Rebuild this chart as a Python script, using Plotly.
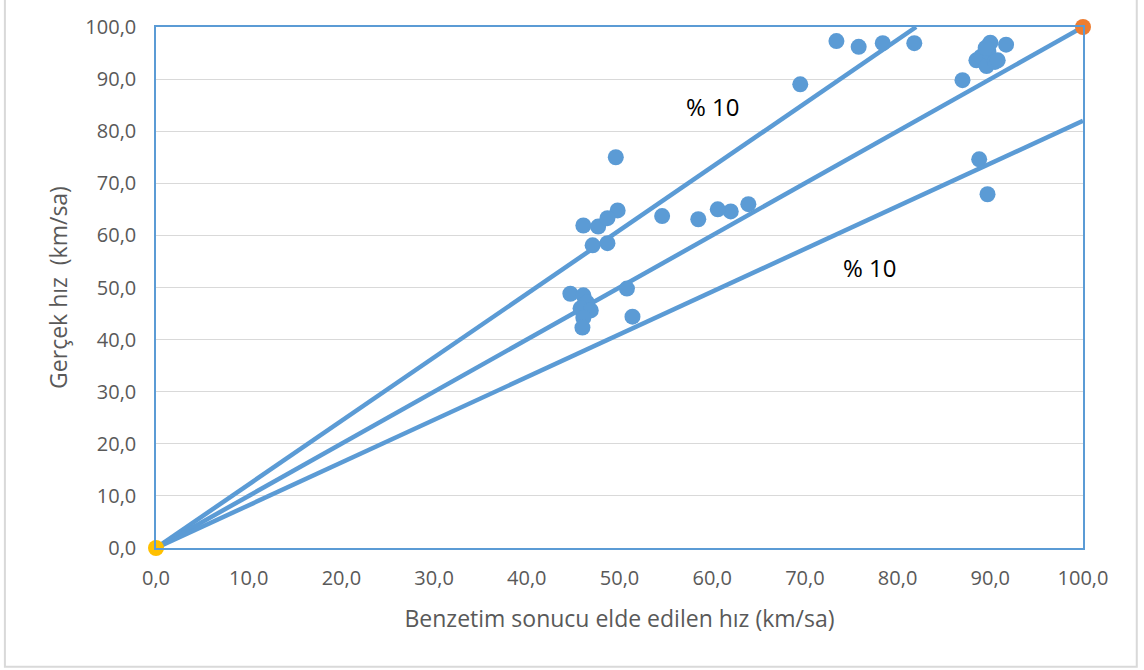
import plotly.graph_objects as go

# Blue scatter points (simulated speed, real speed)
sim_speed = [73.4, 75.8, 78.4, 81.8, 69.5, 87.0,
             88.5, 89.0, 89.6, 89.8, 90.5, 90.8, 90.0, 91.7, 89.5,
             49.6, 88.8, 89.7,
             63.9, 62.0, 60.6, 58.5, 54.6, 49.8,
             46.1, 47.7, 48.7, 47.1, 48.7,
             44.7, 46.1, 46.5, 45.8, 46.9, 46.1, 46.0, 50.8, 51.4]
real_speed = [97.3, 96.2, 96.9, 96.9, 89.0, 89.8,
              93.6, 94.3, 92.5, 95.2, 93.3, 93.6, 97.0, 96.6, 96.0,
              75.0, 74.6, 67.9,
              66.0, 64.6, 65.0, 63.1, 63.7, 64.8,
              61.9, 61.7, 63.3, 58.1, 58.5,
              48.8, 48.5, 47.1, 46.0, 45.6, 44.2, 42.3, 49.8, 44.4]

# Reference lines
line_mid_x = [0, 100]
line_mid_y = [0, 100]
line_up_x = [0, 82]
line_up_y = [0, 100]
line_low_x = [0, 100]
line_low_y = [0, 82]

origin_x = [0]
origin_y = [0]
corner_x = [100]
corner_y = [100]

ticks = [0, 10, 20, 30, 40, 50, 60, 70, 80, 90, 100]

BLUE = "#5B9BD5"
FONT = "Open Sans, Lato, sans-serif"

fig = go.Figure()
for lx, ly in [(line_up_x, line_up_y), (line_mid_x, line_mid_y), (line_low_x, line_low_y)]:
    fig.add_trace(go.Scatter(x=lx, y=ly, mode="lines",
                             line=dict(color=BLUE, width=4.5), showlegend=False,
                             cliponaxis=True))
fig.add_trace(go.Scatter(x=sim_speed, y=real_speed, mode="markers",
                         marker=dict(color=BLUE, size=16), showlegend=False,
                         cliponaxis=False))
fig.add_trace(go.Scatter(x=origin_x, y=origin_y, mode="markers",
                         marker=dict(color="#FFC000", size=16), showlegend=False,
                         cliponaxis=False))
fig.add_trace(go.Scatter(x=corner_x, y=corner_y, mode="markers",
                         marker=dict(color="#ED7D31", size=16), showlegend=False,
                         cliponaxis=False))

fig.add_annotation(x=60.1, y=84.8, text="% 10", showarrow=False,
                   font=dict(family=FONT, size=24, color="#000000"))
fig.add_annotation(x=77.0, y=53.8, text="% 10", showarrow=False,
                   font=dict(family=FONT, size=24, color="#000000"))

# outer light-grey chart frame
fig.add_shape(type="rect", xref="paper", yref="paper",
              x0=-0.163, x1=1.058, y0=-0.228, y1=1.06,
              line=dict(color="#D9D9D9", width=2), fillcolor="rgba(0,0,0,0)", layer="below")

tick_font = dict(family=FONT, size=20, color="#595959")
title_font = dict(family=FONT, size=23, color="#595959")

fig.update_layout(
    width=1144, height=670,
    margin=dict(l=156, r=61, t=27, b=122),
    paper_bgcolor="white", plot_bgcolor="white",
    separators=",.",
    xaxis=dict(range=[0, 100], tickvals=ticks, tickformat=".1f",
               showgrid=False, zeroline=False,
               showline=True, linecolor=BLUE, linewidth=1.5, mirror=True,
               ticks="outside", ticklen=11, tickcolor="rgba(0,0,0,0)",
               tickfont=tick_font,
               title=dict(text="Benzetim sonucu elde edilen hız (km/sa)", font=title_font, standoff=21)),
    yaxis=dict(range=[0, 100], tickvals=ticks, tickformat=".1f",
               showgrid=True, gridcolor="#D9D9D9", gridwidth=1, zeroline=False,
               showline=True, linecolor=BLUE, linewidth=1.5, mirror=True,
               ticks="outside", ticklen=14, tickcolor="rgba(0,0,0,0)",
               tickfont=tick_font,
               title=dict(text="Gerçek hız  (km/sa)", font=title_font, standoff=11)),
)

fig.write_html("out.html")
